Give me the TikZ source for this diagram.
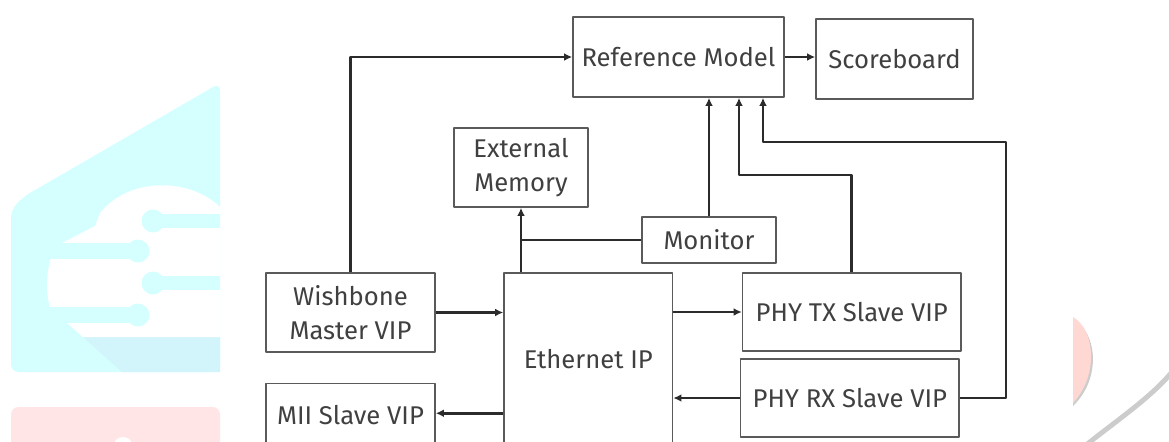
\documentclass[tikz,border=0pt]{standalone}
\usepackage{fontspec}
\setmainfont{Fira Sans}
\usetikzlibrary{arrows.meta,calc}

\definecolor{textgrey}{HTML}{404040}
\definecolor{boxline}{HTML}{5a5a5a}
\definecolor{wire}{HTML}{2b2b2b}
\definecolor{markcyan}{HTML}{D5FFFF}
\definecolor{markshade}{HTML}{D2F4FB}
\definecolor{markpink}{HTML}{FFE5E5}
\definecolor{markrose}{HTML}{FFD8D4}
\definecolor{markgrey}{HTML}{CCCCCC}

\begin{document}
\begin{tikzpicture}[
  x=0.02cm, y=-0.02cm,
  line cap=round, line join=round,
  every node/.style={font=\fontsize{14.6}{19.3}\selectfont, text=textgrey},
  block/.style={draw=boxline, line width=0.9pt, fill=white, align=center, inner sep=2pt},
  wiring/.style={draw=wire, line width=1.5pt, line cap=butt, -{Latex[length=4.6pt,width=4.4pt]}},
  plainwire/.style={draw=wire, line width=1.5pt, line cap=butt},
]
\useasboundingbox (0,0) rectangle (1169,441);
\clip (0,0) rectangle (1169,441);
\fill[white] (0,0) rectangle (1169,441);

% watermark, left
\fill[markcyan, rounded corners=0.15cm] (11,372) -- (11,210) -- (23,197) -- (220,83) -- (220,372) -- cycle;
\fill[markshade] (83,337) -- (220,337) -- (220,372) -- (122,372) -- cycle;
\fill[white] (220,207) .. controls (190,178) and (130,176) .. (100,213) -- (95,226) -- (62,243)
  -- (50,260) .. controls (46,280) and (46,292) .. (50,308) -- (67,323) -- (83,337) -- (220,337) -- cycle;
\foreach \yy/\xx in {221/153, 283/153} {
  \fill[markcyan] (\xx,\yy-7) rectangle (220,\yy+7);
  \fill[markcyan] (\xx,\yy) circle[radius=0.23cm];
}
\foreach \yy/\xx in {251/138, 315/138} {
  \fill[markcyan] (40,\yy-8) rectangle (\xx,\yy+8);
  \fill[markcyan] (\xx,\yy) circle[radius=0.23cm];
}
\fill[markpink, rounded corners=0.15cm] (11,460) -- (11,407) -- (220,407) -- (220,460) -- cycle;
\fill[white] (123,447) circle[radius=0.2cm];

% watermark, right
\fill[markgrey] (1073,319) .. controls (1097,332) and (1102,378) .. (1073,406) -- cycle;
\fill[markrose] (1073,317) .. controls (1095,330) and (1099,375) .. (1073,403) -- cycle;
\draw[markgrey, line width=2.8pt] (1086,445) .. controls (1120,418) and (1150,398) .. (1172,372);

% blocks
\node[block, minimum width=4.22cm, minimum height=1.6cm] (refm) at (678.5,57) {Reference Model};
\node[block, minimum width=3.14cm, minimum height=1.6cm] (score) at (894.5,59) {Scoreboard};
\node[block, minimum width=2.69cm, minimum height=1.58cm] (extmem) at (521,167.5) {External\\Memory};
\node[block, minimum width=2.68cm, minimum height=0.92cm] (monitor) at (709,240) {Monitor};
\node[block, minimum width=3.38cm, minimum height=1.58cm] (wish) at (350.5,312.5) {Wishbone\\Master VIP};
\node[block, minimum width=3.37cm, minimum height=3.44cm] (eth) at (588.3,359) {Ethernet IP};
\node[block, minimum width=4.37cm, minimum height=1.56cm] (phytx) at (851.8,312) {PHY TX Slave VIP};
\node[block, minimum width=4.37cm, minimum height=1.56cm] (phyrx) at (849.8,398) {PHY RX Slave VIP};
\node[block, minimum width=3.38cm, minimum height=1.26cm] (mii) at (350.5,415) {MII Slave VIP};

% bends
\coordinate (txbend) at (739,175);
\coordinate (rxbend) at (1006,142);
\coordinate (rxtop) at (763,142);

% connectors
\draw[wiring] (wish.north) |- (refm.west);
\draw[wiring] (refm.east) -- (refm.east -| score.west);
\draw[wiring] (wish.east) -- (wish.east -| eth.west);
\draw[wiring] ([yshift=1pt]mii.east -| eth.west) -- ([yshift=1pt]mii.east);
\draw[wiring] (eth.north -| extmem.south) -- (extmem.south);
\draw[plainwire] (monitor.west) -- (monitor.west -| extmem.south);
\draw[wiring] (monitor.north) -- (monitor.north |- refm.south);
\draw[wiring] (phytx.north) |- (txbend) -- (txbend |- refm.south);
\draw[wiring] (phyrx.east) -| (rxbend) -- (rxtop) -- (rxtop |- refm.south);
\draw[wiring] (eth.east |- phytx.west) -- (phytx.west);
\draw[wiring] (phyrx.west) -- (phyrx.west -| eth.east);
\end{tikzpicture}
\end{document}
